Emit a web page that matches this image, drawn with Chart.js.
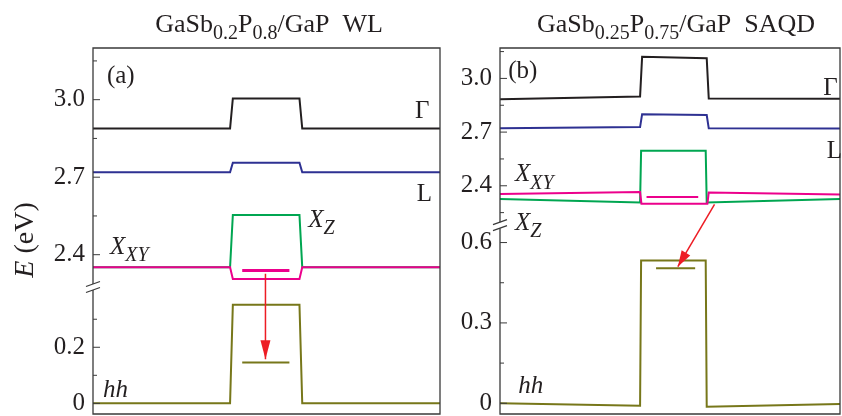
<!DOCTYPE html>
<html>
<head>
<meta charset="utf-8">
<script src="https://cdn.jsdelivr.net/npm/chart.js@4.4.1/dist/chart.umd.min.js"></script>
<style>
  body { margin: 0; background: #fff; }
  #wrap { position: relative; width: 842px; height: 416px; }
  .panel { position: absolute; top: 0; height: 416px; }
</style>
</head>
<body>
<div id="wrap">
  <div class="panel" style="left:0;width:445px"><canvas id="chartWL"></canvas></div>
  <div class="panel" style="left:445px;width:397px"><canvas id="chartQD"></canvas></div>
</div>
<script>
// ---- panel (a): GaSb0.2P0.8/GaP WL  (x: position across structure, E in eV) ----
const wlX = [0, 39.5, 40.3, 59.5, 60.3, 100];
const wlGamma = [2.888, 2.888, 3.005, 3.005, 2.888, 2.888];
const wlL = [2.719, 2.719, 2.756, 2.756, 2.719, 2.719];
const wlXz = [2.351, 2.351, 2.554, 2.554, 2.351, 2.351];
const wlXxy = [2.351, 2.351, 2.306, 2.306, 2.351, 2.351];
const wlHh = [0, 0, 0.352, 0.352, 0, 0];
const wlLevelX = [43.0, 56.6];
const wlXxyLevel = [2.339, 2.339];
const wlHhLevel = [0.146, 0.146];
const wlArrowX = [49.7, 49.7];
const wlArrowE = [2.326, 0.157];
const wlTicks = [3.0, 2.7, 2.4, 0.2, 0];
const wlMinor = [3.15, 2.85, 2.55, 0.3, 0.1];

// ---- panel (b): GaSb0.25P0.75/GaP SAQD ----
const qdX = [0, 41.2, 41.8, 60.8, 61.4, 100];
const qdGamma = [2.884, 2.899, 3.121, 3.113, 2.888, 2.886];
const qdL = [2.721, 2.728, 2.800, 2.795, 2.721, 2.720];
const qdXzX = [0, 41.2, 41.5, 60.5, 60.8, 100];
const qdXz = [2.326, 2.307, 2.596, 2.596, 2.307, 2.326];
const qdXxyX = [0, 41.2, 41.6, 61.0, 61.4, 100];
const qdXxy = [2.354, 2.365, 2.300, 2.300, 2.363, 2.351];
const qdHhX = [0, 41.2, 41.5, 60.5, 60.8, 100];
const qdHh = [0, -0.009, 0.533, 0.533, -0.013, -0.003];
const qdXxyLevelX = [43.1, 58.3];
const qdXxyLevel = [2.337, 2.337];
const qdHhLevelX = [45.9, 57.4];
const qdHhLevel = [0.504, 0.504];
const qdArrowX = [63.1, 52.3];
const qdArrowE = [2.296, 0.51];
const qdTicks = [3.0, 2.7, 2.4, 0.6, 0.3, 0];
const qdMinor = [3.15, 2.85, 2.55, 2.25, 0.45, 0.15];

const COL = {
  gamma: '#231f20', L: '#2e3192', xxy: '#ec008c', xz: '#00a651',
  hh: '#77771a', arrow: '#ed1c24', axis: '#3a3a3a', text: '#231f20'
};
const SERIF = "'Liberation Serif', 'DejaVu Serif', serif";

// broken axis: low segment [E0,E1] fills fraction `frac` of the height, high segment the rest
function makeBreak(low, high, frac) {
  return E => E >= high[0]
    ? frac + (E - high[0]) / (high[1] - high[0]) * (1 - frac)
    : (E - low[0]) / (low[1] - low[0]) * frac;
}

function font(size, italic) {
  return (italic ? 'italic ' : '') + size + 'px ' + SERIF;
}

// parts: [text, style]  style may hold 'i' (italic) and 's' (subscript)
function drawRich(ctx, parts, x, y, size, align) {
  const items = parts.map(([t, st]) => {
    const sub = st.includes('s');
    ctx.font = font(sub ? Math.round(size * 0.78) : size, st.includes('i'));
    return { t, f: ctx.font, w: ctx.measureText(t).width, dy: sub ? size * 0.3 : 0 };
  });
  const total = items.reduce((s, it) => s + it.w, 0);
  let cx = align === 'center' ? x - total / 2 : x;
  ctx.textAlign = 'left';
  ctx.textBaseline = 'alphabetic';
  items.forEach(it => {
    ctx.font = it.f;
    ctx.fillText(it.t, cx, y + it.dy);
    cx += it.w;
  });
}

function decoPlugin(p) {
  return {
    id: 'deco',
    afterDatasetsDraw(chart) {
      const { ctx, chartArea: a, scales: { x, y } } = chart;
      const py = E => y.getPixelForValue(p.toU(E));
      const yb = y.getPixelForValue(p.frac);
      ctx.save();

      // arrow heads
      chart.data.datasets.forEach((ds, i) => {
        if (!ds.arrowHead) return;
        const pts = chart.getDatasetMeta(i).data;
        const p0 = pts[pts.length - 2], p1 = pts[pts.length - 1];
        const ang = Math.atan2(p1.y - p0.y, p1.x - p0.x);
        const [len, half] = ds.arrowHead;
        ctx.fillStyle = ds.borderColor;
        ctx.beginPath();
        ctx.moveTo(p1.x, p1.y);
        ctx.lineTo(p1.x - len * Math.cos(ang) + half * Math.sin(ang), p1.y - len * Math.sin(ang) - half * Math.cos(ang));
        ctx.lineTo(p1.x - len * Math.cos(ang) - half * Math.sin(ang), p1.y - len * Math.sin(ang) + half * Math.cos(ang));
        ctx.closePath();
        ctx.fill();
      });

      // frame with gap at the break
      ctx.strokeStyle = COL.axis;
      ctx.lineWidth = 1.3;
      ctx.beginPath();
      ctx.moveTo(a.left, yb - 3);
      ctx.lineTo(a.left, a.top);
      ctx.lineTo(a.right, a.top);
      ctx.lineTo(a.right, a.bottom);
      ctx.lineTo(a.left, a.bottom);
      ctx.lineTo(a.left, yb + 3);
      ctx.stroke();
      ctx.beginPath();
      [-3, 3].forEach(d => {
        ctx.moveTo(a.left - 7, yb + d + 2.5);
        ctx.lineTo(a.left + 7, yb + d - 2.5);
      });
      ctx.stroke();

      // inward ticks
      ctx.lineWidth = 1;
      ctx.beginPath();
      p.ticks.forEach(E => { ctx.moveTo(a.left, py(E)); ctx.lineTo(a.left + 7, py(E)); });
      p.minor.forEach(E => { ctx.moveTo(a.left, py(E)); ctx.lineTo(a.left + 4, py(E)); });
      ctx.stroke();

      // in-plot labels
      ctx.fillStyle = COL.text;
      p.labels.forEach(l => drawRich(ctx, l.parts, x.getPixelForValue(l.x), py(l.E), 25, 'left'));

      // title
      drawRich(ctx, p.title, p.titleX, 31.5, 26, 'center');

      // y title
      if (p.yTitle) {
        ctx.translate(33, 240);
        ctx.rotate(-Math.PI / 2);
        drawRich(ctx, [['E', 'i'], [' (eV)', '']], 0, 0, 28, 'center');
      }
      ctx.restore();
    }
  };
}

function line(xs, es, color, width, toU, extra) {
  return Object.assign({
    data: xs.map((xv, i) => ({ x: xv, y: toU(es[i]) })),
    borderColor: color,
    borderWidth: width,
    pointRadius: 0,
    tension: 0,
    fill: false
  }, extra || {});
}

function makePanel(id, p) {
  p.toU = makeBreak(p.low, p.high, p.frac);
  const labels = p.ticks.map(E => (E === 0 ? '0' : E.toFixed(1)));
  return new Chart(document.getElementById(id), {
    type: 'line',
    data: { datasets: p.series(p.toU) },
    options: {
      responsive: true,
      maintainAspectRatio: false,
      animation: false,
      events: [],
      layout: { padding: { top: 48, right: p.padRight, bottom: 2, left: 0 } },
      plugins: { legend: { display: false }, tooltip: { enabled: false } },
      scales: {
        x: { type: 'linear', min: 0, max: 100, display: false },
        y: {
          type: 'linear',
          min: 0,
          max: 1,
          afterFit: s => { s.width = p.axisW; s.paddingTop = 0; s.paddingBottom = 0; },
          afterBuildTicks: s => { s.ticks = p.ticks.map(E => ({ value: p.toU(E) })); },
          grid: { display: false, drawTicks: false },
          border: { display: false },
          ticks: {
            autoSkip: false,
            padding: 8,
            color: COL.text,
            font: { family: SERIF, size: 25 },
            callback: (v, i) => labels[i]
          }
        }
      }
    },
    plugins: [decoPlugin(p)]
  });
}

makePanel('chartWL', {
  axisW: 93, padRight: 5,
  low: [-0.038, 0.415], high: [2.275, 3.2], frac: 0.347,
  ticks: wlTicks, minor: wlMinor, yTitle: true,
  titleX: 269,
  title: [['GaSb', ''], ['0.2', 's'], ['P', ''], ['0.8', 's'], ['/GaP  WL', '']],
  labels: [
    { x: 4.0, E: 3.066, parts: [['(a)', '']] },
    { x: 92.8, E: 2.930, parts: [['\u0393', '']] },
    { x: 93.3, E: 2.607, parts: [['L', '']] },
    { x: 62.0, E: 2.508, parts: [['X', 'i'], ['Z', 'si']] },
    { x: 4.9, E: 2.404, parts: [['X', 'i'], ['XY', 'si']] },
    { x: 2.9, E: 0.024, parts: [['hh', 'i']] }
  ],
  series: toU => [
    line(wlArrowX, wlArrowE, COL.arrow, 1.5, toU, { arrowHead: [19, 5] }),
    line(wlLevelX, wlXxyLevel, COL.xxy, 3, toU),
    line(wlLevelX, wlHhLevel, COL.hh, 2, toU),
    line(wlX, wlXxy, COL.xxy, 2, toU),
    line(wlX, wlXz, COL.xz, 2, toU),
    line(wlX, wlHh, COL.hh, 2, toU),
    line(wlX, wlL, COL.L, 2, toU),
    line(wlX, wlGamma, COL.gamma, 2, toU)
  ]
});

makePanel('chartQD', {
  axisW: 55, padRight: 2,
  low: [-0.04, 0.665], high: [2.18, 3.17], frac: 0.516,
  ticks: qdTicks, minor: qdMinor, yTitle: false,
  titleX: 231,
  title: [['GaSb', ''], ['0.25', 's'], ['P', ''], ['0.75', 's'], ['/GaP  SAQD', '']],
  labels: [
    { x: 2.4, E: 3.0, parts: [['(b)', '']] },
    { x: 95.1, E: 2.907, parts: [['\u0393', '']] },
    { x: 96.1, E: 2.553, parts: [['L', '']] },
    { x: 4.4, E: 2.424, parts: [['X', 'i'], ['XY', 'si']] },
    { x: 4.4, E: 0.647, parts: [['X', 'i'], ['Z', 'si']] },
    { x: 5.4, E: 0.037, parts: [['hh', 'i']] }
  ],
  series: toU => [
    line(qdArrowX, qdArrowE, COL.arrow, 1.5, toU, { arrowHead: [16, 5] }),
    line(qdXxyLevelX, qdXxyLevel, COL.xxy, 2, toU),
    line(qdHhLevelX, qdHhLevel, COL.hh, 2, toU),
    line(qdXxyX, qdXxy, COL.xxy, 2, toU),
    line(qdXzX, qdXz, COL.xz, 2, toU),
    line(qdHhX, qdHh, COL.hh, 2, toU),
    line(qdX, qdL, COL.L, 2, toU),
    line(qdX, qdGamma, COL.gamma, 2, toU)
  ]
});
</script>
</body>
</html>
